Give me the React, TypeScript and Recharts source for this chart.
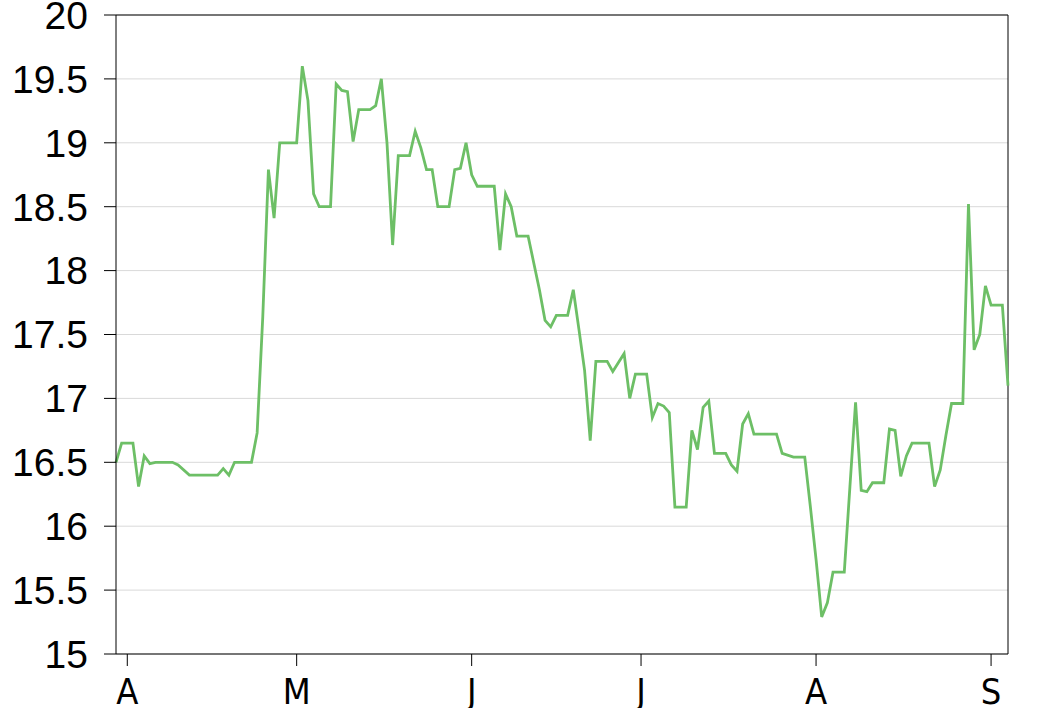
import { CartesianGrid, Line, LineChart, ReferenceLine, XAxis, YAxis } from "recharts"

const LINE = "#6dbf66"
const GRID = "#d9d9d9"
const INK = "#000000"

// day offsets from 1 April, and the value at each vertex of the line
const DAYS = [
  -2, -1, 1, 2, 3, 4, 5, 8, 9, 11, 16, 17, 18, 19, 22, 23, 24, 25, 26, 27, 30, 31, 32, 33, 34, 36,
  37, 38, 39, 40, 41, 43, 44, 45, 46, 47, 48, 50, 51, 52, 53, 54, 55, 57, 58, 59, 60, 61, 62, 65,
  66, 67, 68, 69, 71, 72, 73, 74, 75, 76, 78, 79, 80, 81, 82, 83, 85, 86, 87, 88, 89, 90, 92, 93,
  94, 95, 96, 97, 99, 100, 101, 102, 103, 104, 106, 107, 108, 109, 110, 111, 115, 116, 118, 120,
  121, 122, 123, 124, 125, 127, 128, 129, 130, 131, 132, 134, 135, 136, 137, 138, 139, 142, 143,
  144, 145, 146, 148, 149, 150, 151, 152, 153, 155, 156,
]
const VALUES = [
  16.5, 16.65, 16.65, 16.31, 16.55, 16.49, 16.5, 16.5, 16.48, 16.4, 16.4, 16.45, 16.4, 16.5, 16.5,
  16.73, 17.64, 18.79, 18.41, 19.0, 19.0, 19.6, 19.33, 18.6, 18.5, 18.5, 19.46, 19.41, 19.4, 19.01,
  19.26, 19.26, 19.29, 19.5, 19.0, 18.2, 18.9, 18.9, 19.09, 18.96, 18.79, 18.79, 18.5, 18.5, 18.79,
  18.8, 19.0, 18.75, 18.66, 18.66, 18.16, 18.6, 18.5, 18.27, 18.27, 18.06, 17.85, 17.61, 17.56,
  17.65, 17.65, 17.85, 17.54, 17.22, 16.67, 17.29, 17.29, 17.21, 17.28, 17.35, 17.0, 17.19, 17.19,
  16.85, 16.96, 16.94, 16.89, 16.15, 16.15, 16.75, 16.6, 16.93, 16.98, 16.57, 16.57, 16.48, 16.43,
  16.8, 16.88, 16.72, 16.72, 16.57, 16.54, 16.54, 16.15, 15.74, 15.29, 15.4, 15.64, 15.64, 16.31,
  16.97, 16.28, 16.27, 16.34, 16.34, 16.76, 16.75, 16.39, 16.55, 16.65, 16.65, 16.31, 16.44, 16.71,
  16.96, 16.96, 18.52, 17.38, 17.5, 17.88, 17.73, 17.73, 17.1,
]

const MONTH_TICKS = [0, 30, 61, 91, 122, 153]
const MONTH_LABELS = ["A", "M", "J", "J", "A", "S"]
const Y_TICKS = [15, 15.5, 16, 16.5, 17, 17.5, 18, 18.5, 19, 19.5, 20]

const data = DAYS.map((day, i) => ({ day, value: VALUES[i] }))

export default function App() {
  const yTick = { fill: INK, fontSize: 39, fontFamily: "'Liberation Sans', Arial, sans-serif" }
  const xTick = {
    fill: INK,
    fontSize: 36,
    fontFamily: "'Liberation Sans Narrow', 'DejaVu Sans Condensed', 'Liberation Sans', sans-serif",
  }

  return (
    <div style={{ position: "absolute", left: 0, top: 0, width: 1040, height: 708, background: "#fff" }}>
      <LineChart width={1040} height={708} data={data} margin={{ top: 15, right: 32, bottom: 0, left: 0 }}>
        <CartesianGrid vertical={false} stroke={GRID} />
        <XAxis
          dataKey="day"
          type="number"
          domain={[-2, 156]}
          ticks={MONTH_TICKS}
          tickFormatter={(v) => MONTH_LABELS[MONTH_TICKS.indexOf(v)] ?? ""}
          stroke={INK}
          tick={xTick}
          tickSize={12}
          tickMargin={12}
          interval={0}
          height={54}
        />
        <YAxis
          type="number"
          domain={[15, 20]}
          ticks={Y_TICKS}
          tickFormatter={(v) => String(v)}
          stroke={INK}
          tick={yTick}
          tickSize={12}
          tickMargin={16}
          interval={0}
          width={116}
        />
        <ReferenceLine y={20} stroke={INK} />
        <ReferenceLine x={156} stroke={INK} />
        <Line
          type="linear"
          dataKey="value"
          stroke={LINE}
          strokeWidth={2.8}
          dot={false}
          isAnimationActive={false}
        />
      </LineChart>
    </div>
  )
}
